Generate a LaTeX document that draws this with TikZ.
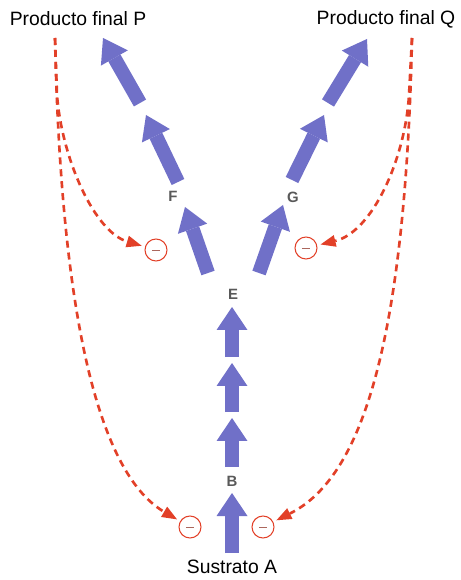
\documentclass[tikz,border=0pt]{standalone}
\usepackage{fontspec}
\setmainfont{Liberation Sans}
\usetikzlibrary{arrows.meta, calc}
\definecolor{fluxblue}{RGB}{112,112,200}
\definecolor{inhred}{RGB}{226,64,40}

\begin{document}
\begin{tikzpicture}[x=0.02cm, y=-0.02cm,
  flux/.style={draw=fluxblue, line width=0.28cm,
    -{Triangle[width=0.62cm, length=0.46cm, line width=0pt]}},
  inhib/.style={draw=inhred, line width=1.5pt, dash pattern=on 4pt off 2.8pt,
    -{Triangle[width=0.24cm, length=0.3cm, line width=0pt]}, shorten >=2pt},
  block/.style={circle, draw=inhred, line width=0.6pt, minimum size=0.44cm, inner sep=0pt,
    path picture={\draw[inhred!60!black!70, line width=0.5pt]
      ($(path picture bounding box.center)-(2.3pt,0)$) -- ++(4.6pt,0);}},
  met/.style={text=black!65, font=\fontsize{8.5}{10}\selectfont\bfseries, inner sep=1pt},
  title/.style={font=\fontsize{11}{13}\selectfont, inner sep=1pt}]
  \useasboundingbox (0,0) rectangle (460,580);
  % substrate, intermediates and end products
  \node[title] (A) at (232,567) {Sustrato A};
  \node[title] (P) at (78,19) {Producto final P};
  \node[title] (Q) at (386,19) {Producto final Q};
  \node[met] (B) at (232,481) {B};
  \node[met] (E) at (233,294) {E};
  \node[met] (F) at (173,196) {F};
  \node[met] (G) at (293,197) {G};
  % ends of the reaction arrows
  \coordinate (s0) at (232,553); \coordinate (s1) at (232,493);
  \coordinate (s2) at (232,467); \coordinate (s3) at (232,418);
  \coordinate (s4) at (232,412); \coordinate (s5) at (232,363);
  \coordinate (s6) at (232,357); \coordinate (s7) at (232,307);
  \coordinate (l0) at (208,273); \coordinate (l1) at (185,207);
  \coordinate (l2) at (178,182); \coordinate (l3) at (146,115);
  \coordinate (l4) at (140,103); \coordinate (l5) at (103,38);
  \coordinate (r0) at (259,273); \coordinate (r1) at (283,205);
  \coordinate (r2) at (292,180); \coordinate (r3) at (324,115);
  \coordinate (r4) at (328,103); \coordinate (r5) at (367,39);
  % reaction steps
  \foreach \from/\to in {s0/s1, s2/s3, s4/s5, s6/s7, l0/l1, l2/l3, l4/l5, r0/r1, r2/r3, r4/r5}
    \draw[flux] (\from) -- (\to);
  % inhibition sites
  \node[block] (iF) at (156,250) {};
  \node[block] (iG) at (306,248) {};
  \node[block] (iP) at (190,527) {};
  \node[block] (iQ) at (263,527) {};
  % feedback from the end products
  \coordinate (pTop) at (55,38); \coordinate (pFork) at (57,95);
  \coordinate (qTop) at (412,38); \coordinate (qFork) at (409,95);
  \draw[inhib] (pTop) .. controls (62,360) and (110,480) .. (iP);
  \draw[inhib] (pTop) -- (pFork) .. controls (62,160) and (95,232) .. (iF);
  \draw[inhib] (qTop) .. controls (405,360) and (357,480) .. (iQ);
  \draw[inhib] (qTop) -- (qFork) .. controls (405,160) and (372,232) .. (iG);
\end{tikzpicture}
\end{document}
